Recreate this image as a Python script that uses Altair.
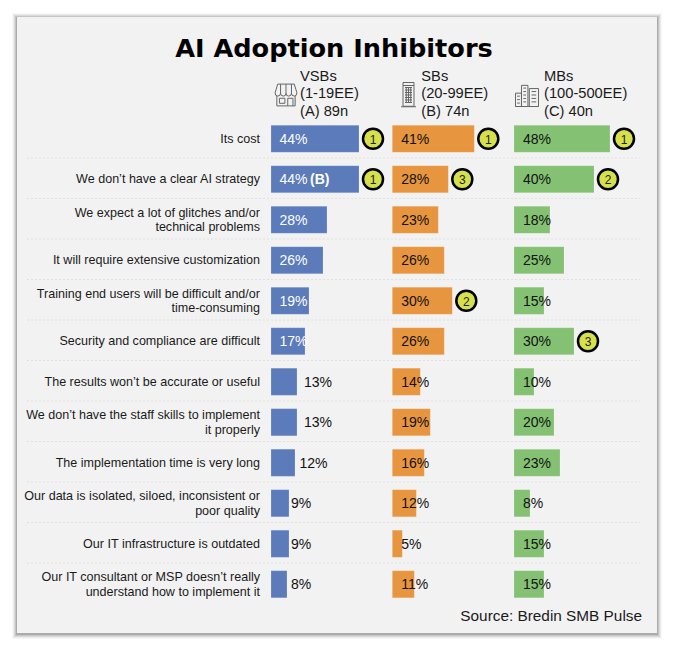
import altair as alt
import pandas as pd

questions = [
    "Its cost",
    "We don\u2019t have a clear AI strategy",
    "We expect a lot of glitches and/or\ntechnical problems",
    "It will require extensive customization",
    "Training end users will be difficult and/or\ntime-consuming",
    "Security and compliance are difficult",
    "The results won\u2019t be accurate or useful",
    "We don\u2019t have the staff skills to implement\nit properly",
    "The implementation time is very long",
    "Our data is isolated, siloed, inconsistent or\npoor quality",
    "Our IT infrastructure is outdated",
    "Our IT consultant or MSP doesn\u2019t really\nunderstand how to implement it",
]
vsb = [44, 44, 28, 26, 19, 17, 13, 13, 12, 9, 9, 8]
sb = [41, 28, 23, 26, 30, 26, 14, 19, 16, 12, 5, 11]
mb = [48, 40, 18, 25, 15, 30, 10, 20, 23, 8, 15, 15]
vsb_rank = {0: 1, 1: 1}
sb_rank = {0: 1, 1: 3, 4: 2}
mb_rank = {0: 1, 1: 2, 5: 3}

STORE = ("M-.38,-.5 L.38,-.5 L.5,-.1 Q.5,.05 .38,.05 Q.25,.05 .25,-.08 Q.25,.05 .12,.05 Q0,.05 0,-.08 "
         "Q0,.05 -.12,.05 Q-.25,.05 -.25,-.08 Q-.25,.05 -.38,.05 Q-.5,.05 -.5,-.1 Z "
         "M-.25,-.5 L-.25,-.08 M0,-.5 L0,-.08 M.25,-.5 L.25,-.08 "
         "M-.42,.05 L-.42,.5 L.42,.5 L.42,.05 M-.3,.15 L-.05,.15 L-.05,.38 L-.3,.38 Z "
         "M.08,.5 L.08,.15 L.32,.15 L.32,.5")
TOWER = ("M-.22,-.5 L.22,-.5 L.22,.45 L-.22,.45 Z M-.3,.47 L.3,.47 M-.22,-.38 L.22,-.38 "
         "M-.14,-.3 L.14,-.3 M-.14,-.2 L.14,-.2 M-.14,-.1 L.14,-.1 M-.14,0 L.14,0 "
         "M-.14,.1 L.14,.1 M-.14,.2 L.14,.2 M-.14,.3 L.14,.3 "
         "M-.09,-.32 L-.09,.32 M0,-.32 L0,.32 M.09,-.32 L.09,.32")
OFFICES = ("M-.5,.5 L-.5,-.08 L-.24,-.08 L-.24,.5 Z M-.24,.5 L-.24,-.42 L.04,-.42 L.04,.5 Z "
           "M.1,.5 L.1,-.28 L.5,-.28 L.5,.5 Z M-.5,.5 L.5,.5 "
           "M-.43,.05 L-.31,.05 M-.43,.2 L-.31,.2 M-.43,.35 L-.31,.35 "
           "M-.16,-.3 L-.04,-.3 M-.16,-.15 L-.04,-.15 M-.16,0 L-.04,0 M-.16,.15 L-.04,.15 M-.16,.3 L-.04,.3 "
           "M.2,-.15 L.4,-.15 M.2,0 L.4,0 M.2,.15 L.4,.15 M.2,.3 L.4,.3")

panels = [
    ("VSBs\n(1-19EE)\n(A) 89n", vsb, vsb_rank, "#5b7bbb", 263, 29, STORE, 278, 1900),
    ("SBs\n(20-99EE)\n(B) 74n", sb, sb_rank, "#e8953f", 384.3, 29, TOWER, 400.5, 2500),
    ("MBs\n(100-500EE)\n(C) 40n", mb, mb_rank, "#84c173", 506, 30, OFFICES, 519, 2116),
]
FONT = "Liberation Sans"
W, H = 658, 634


def ymap(pad=0.33, band=None, top=110.5, bottom=596.5):
    kw = {} if band is None else {"bandPosition": band}
    return alt.Y("q:N", sort=questions, axis=None,
                 scale=alt.Scale(domain=questions, range=[top, bottom], paddingInner=pad, paddingOuter=pad / 2),
                 **kw)


one = pd.DataFrame({"a": [0]})
layers = []

# card with soft shadow
for inset, op in [(-1, 0.04), (0, 0.07), (1, 0.1), (2, 0.14), (3, 0.2)]:
    layers.append(alt.Chart(one).mark_rect(color="#444444", opacity=op).encode(
        x=alt.value(5 + inset), x2=alt.value(653 - inset), y=alt.value(6 + inset), y2=alt.value(630 - inset)))
layers.append(alt.Chart(one).mark_rect(color="#f2f2f2").encode(
    x=alt.value(9), x2=alt.value(649), y=alt.value(9), y2=alt.value(625)))

# row dividers
layers.append(alt.Chart(pd.DataFrame({"q": questions[:-1]})).mark_rule(
    color="#e0e0e0", strokeWidth=1, strokeDash=[2, 2]).encode(
    y=ymap(0, 1.0, 109.5, 595.5), x=alt.value(19), x2=alt.value(632)))

# question labels: one-line and two-line groups
for group, shift in [([q for q in questions if "\n" not in q], 0), ([q for q in questions if "\n" in q], -7)]:
    layers.append(alt.Chart(pd.DataFrame({"q": group})).mark_text(
        align="right", baseline="middle", font=FONT, fontSize=12.55, color="#1a1a1a",
        lineBreak="\n", lineHeight=14.5, dy=shift).encode(
        y=ymap(0, 0.5), x=alt.value(252), text="q:N"))

# bar panels: each has its own x scale, 2 px per percentage point
for header, vals, ranks, color, x0, hdx, icon, icon_x, icon_size in panels:
    xs = alt.Scale(domain=[0, 60], range=[x0, x0 + 120])
    df = pd.DataFrame({"q": questions, "v": vals, "label": [f"{v}%" for v in vals]})
    if vals is vsb:
        outside = {13: 16.5, 12: 14.25, 9: 10, 8: 10}
        df["lx"] = [outside.get(v, 4.25) for v in vals]
        df["col"] = ["#ffffff" if v >= 17 else "#111111" for v in vals]
    else:
        df["lx"] = 4.5
        df["col"] = "#111111"
    layers.append(alt.Chart(df).mark_bar(color=color, stroke="#ffffff", strokeOpacity=0.35, strokeWidth=0.5).encode(
        y=ymap(), x=alt.X("v:Q", scale=xs, axis=None), x2=alt.datum(0)))
    layers.append(alt.Chart(df).mark_text(
        align="left", baseline="middle", font=FONT, fontSize=14, dy=1).encode(
        y=ymap(0, 0.5), x=alt.X("lx:Q", scale=xs, axis=None), text="label:N",
        color=alt.Color("col:N", scale=None)))
    if vals is vsb:
        layers.append(alt.Chart(pd.DataFrame({"q": [questions[1]], "lx": [19.5], "t": ["(B)"]})).mark_text(
            align="left", baseline="middle", font=FONT, fontSize=14, fontWeight="bold", color="#ffffff", dy=1).encode(
            y=ymap(0, 0.5), x=alt.X("lx:Q", scale=xs, axis=None), text="t:N"))
    rdf = pd.DataFrame({"q": [questions[i] for i in ranks], "v": [vals[i] + 7 for i in ranks],
                        "r": [str(r) for r in ranks.values()]})
    layers.append(alt.Chart(rdf).mark_point(
        filled=True, fill="#d6e04a", stroke="#000000", strokeWidth=2.5, opacity=1, size=400, shape="circle").encode(
        y=ymap(0, 0.5), x=alt.X("v:Q", scale=xs, axis=None)))
    layers.append(alt.Chart(rdf).mark_text(
        align="center", baseline="middle", font=FONT, fontSize=12, color="#222222", dy=1).encode(
        y=ymap(0, 0.5), x=alt.X("v:Q", scale=xs, axis=None), text="r:N"))
    layers.append(alt.Chart(pd.DataFrame({"t": [header]})).mark_text(
        align="left", baseline="middle", font=FONT, fontSize=14.7, color="#1a1a1a", lineBreak="\n", lineHeight=17.5).encode(
        x=alt.value(x0 + hdx), y=alt.value(68.5), text="t:N"))
    layers.append(alt.Chart(one).mark_point(
        shape=icon, size=icon_size, stroke="#666666", strokeWidth=1, filled=False, opacity=1).encode(
        x=alt.value(icon_x), y=alt.value(87)))

# title and source
layers.append(alt.Chart(pd.DataFrame({"t": ["AI Adoption Inhibitors"]})).mark_text(
    align="center", baseline="middle", font="DejaVu Sans", fontWeight="bold", fontSize=25.6, color="#000000").encode(
    x=alt.value(326), y=alt.value(41), text="t:N"))
layers.append(alt.Chart(pd.DataFrame({"t": ["Source: Bredin SMB Pulse"]})).mark_text(
    align="right", baseline="middle", font=FONT, fontSize=15.35, color="#1a1a1a").encode(
    x=alt.value(634), y=alt.value(608), text="t:N"))

chart = alt.layer(*layers).resolve_scale(x="independent", y="independent").properties(
    width=W, height=H, padding=0, autosize=alt.AutoSizeParams(type="none"),
    background="#ffffff").configure_view(stroke=None)
chart.save("out.html", embed_options={"renderer": "svg", "actions": False})
